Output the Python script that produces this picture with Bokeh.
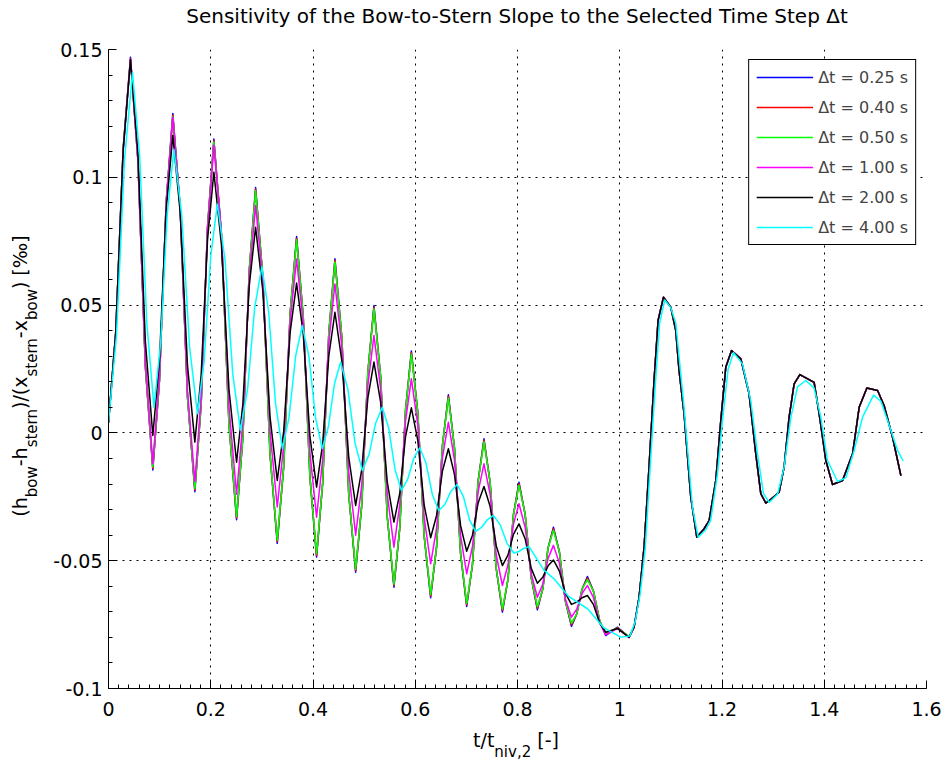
from bokeh.plotting import figure
from bokeh.models import Range1d, FixedTicker, Legend, LegendItem, CustomJSTickFormatter, Div
from bokeh.layouts import column, row
from bokeh.embed import file_html
from bokeh.resources import INLINE

# ---------------- data ----------------
x_phase1 = [0, 0.0143, 0.0287, 0.043, 0.0576, 0.0721, 0.0867, 0.0997, 0.1128, 0.1258,
            0.1402, 0.1545, 0.1689, 0.1813, 0.1937, 0.2061, 0.2209, 0.2357, 0.2505, 0.2629,
            0.2753, 0.2877, 0.3018, 0.316, 0.3301, 0.3427, 0.3553, 0.3679, 0.3809, 0.394,
            0.407, 0.419, 0.4309, 0.4429, 0.4564, 0.4699, 0.4834, 0.4953, 0.5073, 0.5192,
            0.5322, 0.5453, 0.5583, 0.5697, 0.581, 0.5924, 0.605, 0.6175, 0.6301, 0.6417,
            0.6532, 0.6648, 0.6767, 0.6887, 0.7006, 0.7119, 0.7231, 0.7344, 0.7464, 0.7585,
            0.7705, 0.7813, 0.7921, 0.8029, 0.8149, 0.8269, 0.8389, 0.8494, 0.8598, 0.8703,
            0.882, 0.8938, 0.9055, 0.9159, 0.9264, 0.9368, 0.9487, 0.9607, 0.9726, 0.9955,
            1.0182]
x_phase2 = [1.028, 1.0378, 1.0476, 1.0573, 1.0671, 1.075, 1.0855, 1.0998, 1.1096, 1.116,
            1.1258, 1.139, 1.1507, 1.165, 1.1748, 1.1879, 1.1977, 1.2074, 1.2186, 1.2368,
            1.253, 1.2661, 1.2759, 1.2857, 1.2955, 1.3118, 1.3215, 1.3313, 1.3411, 1.3523,
            1.3802, 1.39, 1.4031, 1.4162, 1.4358, 1.4554, 1.4683, 1.4834, 1.5043, 1.5172,
            1.5336, 1.5499]

y_blue_p1 = [0.004, 0.0398, 0.1113, 0.147, 0.1066, 0.0259, -0.0145, 0.0204, 0.0901, 0.125,
             0.088, 0.014, -0.023, 0.0115, 0.0805, 0.115, 0.0777, 0.0032, -0.034, -0.0015,
             0.0635, 0.096, 0.0612, -0.0084, -0.0432, -0.0132, 0.0468, 0.0768, 0.0454, -0.0173,
             -0.0486, -0.0194, 0.0389, 0.0681, 0.0374, -0.0239, -0.0545, -0.0284, 0.0237, 0.0498,
             0.0222, -0.0329, -0.0604, -0.0373, 0.0089, 0.032, 0.0079, -0.0404, -0.0645, -0.0446,
             -0.0049, 0.0149, -0.0058, -0.0472, -0.0679, -0.0515, -0.0187, -0.0023, -0.0193, -0.0532,
             -0.0701, -0.0574, -0.032, -0.0193, -0.0318, -0.0567, -0.0692, -0.0611, -0.045, -0.0369,
             -0.0466, -0.066, -0.0757, -0.0708, -0.0611, -0.0562, -0.062, -0.0735, -0.0793, -0.076,
             -0.080]
y_red_p1 = [0.004, 0.0398, 0.1113, 0.1464, 0.1066, 0.0259, -0.0139, 0.0204, 0.0901, 0.1244,
            0.088, 0.014, -0.0224, 0.0115, 0.0805, 0.1144, 0.0777, 0.0032, -0.0334, -0.0015,
            0.0635, 0.0954, 0.0612, -0.0084, -0.0426, -0.0132, 0.0468, 0.0762, 0.0454, -0.0173,
            -0.048, -0.0194, 0.0389, 0.0675, 0.0374, -0.0239, -0.0539, -0.0284, 0.0237, 0.0492,
            0.0222, -0.0329, -0.0598, -0.0373, 0.0089, 0.0314, 0.0079, -0.0404, -0.0639, -0.0446,
            -0.0049, 0.0143, -0.0058, -0.0472, -0.0673, -0.0515, -0.0187, -0.0029, -0.0193, -0.0532,
            -0.0695, -0.0574, -0.032, -0.0199, -0.0318, -0.0567, -0.0686, -0.0611, -0.045, -0.0375,
            -0.0466, -0.066, -0.0751, -0.0708, -0.0611, -0.0568, -0.062, -0.0735, -0.0788, -0.0762,
            -0.0798]
y_green_p1 = [0.004, 0.0398, 0.1113, 0.1458, 0.1066, 0.0259, -0.0133, 0.0204, 0.0901, 0.1238,
              0.088, 0.014, -0.0218, 0.0115, 0.0805, 0.1138, 0.0777, 0.0032, -0.0328, -0.0015,
              0.0635, 0.0948, 0.0612, -0.0084, -0.042, -0.0132, 0.0468, 0.0756, 0.0454, -0.0173,
              -0.0474, -0.0194, 0.0389, 0.0669, 0.0374, -0.0239, -0.0533, -0.0284, 0.0237, 0.0486,
              0.0222, -0.0329, -0.0592, -0.0373, 0.0089, 0.0308, 0.0079, -0.0404, -0.0633, -0.0446,
              -0.0049, 0.0137, -0.0058, -0.0472, -0.0667, -0.0515, -0.0187, -0.0035, -0.0193, -0.0532,
              -0.0689, -0.0574, -0.032, -0.0205, -0.0318, -0.0567, -0.068, -0.0611, -0.045, -0.0381,
              -0.0466, -0.066, -0.0745, -0.0708, -0.0611, -0.0574, -0.062, -0.0735, -0.0783, -0.0764,
              -0.0796]
y_magenta_p1 = [0.004, 0.0395, 0.1105, 0.146, 0.1065, 0.0275, -0.012, 0.0219, 0.0896, 0.1235,
                0.0879, 0.0166, -0.019, 0.0139, 0.0796, 0.1125, 0.0784, 0.0101, -0.024, 0.0043,
                0.0608, 0.089, 0.0595, 0.0005, -0.029, -0.0048, 0.0438, 0.068, 0.0428, -0.0078,
                -0.033, -0.0102, 0.0355, 0.0583, 0.0337, -0.0154, -0.040, -0.0205, 0.0186, 0.0381,
                0.0174, -0.024, -0.0447, -0.0282, 0.0047, 0.0212, 0.0031, -0.0331, -0.0512, -0.0374,
                -0.0097, 0.0042, -0.0106, -0.0403, -0.0551, -0.0444, -0.0229, -0.0121, -0.024, -0.0478,
                -0.0597, -0.0517, -0.0357, -0.0277, -0.0369, -0.0552, -0.0643, -0.0592, -0.0491, -0.044,
                -0.051, -0.0651, -0.0721, -0.069, -0.0628, -0.0597, -0.0645, -0.0742, -0.079, -0.0765,
                -0.080]
y_black_p1 = [0.004, 0.0395, 0.1105, 0.146, 0.1093, 0.0358, -0.001, 0.0284, 0.0871, 0.1164,
              0.0864, 0.0264, -0.0036, 0.0228, 0.0756, 0.102, 0.0736, 0.0169, -0.0115, 0.0115,
              0.0575, 0.0805, 0.0557, 0.0062, -0.0186, 0.0007, 0.0393, 0.0586, 0.0387, -0.0013,
              -0.0212, -0.0041, 0.0301, 0.0472, 0.0283, -0.0095, -0.0284, -0.0144, 0.0137, 0.0277,
              0.0121, -0.0193, -0.0349, -0.0237, -0.0014, 0.0098, -0.0029, -0.0283, -0.041, -0.0323,
              -0.0149, -0.0062, -0.0162, -0.0363, -0.0463, -0.04, -0.0273, -0.021, -0.0287, -0.0442,
              -0.0519, -0.0478, -0.0397, -0.0356, -0.0414, -0.053, -0.0588, -0.0565, -0.052, -0.0497,
              -0.0541, -0.0628, -0.0671, -0.0662, -0.0645, -0.0636, -0.0672, -0.0744, -0.078, -0.0765,
              -0.080]
tail_main = [-0.076, -0.0643, -0.0447, -0.0134, 0.0205, 0.044, 0.0531, 0.0492, 0.040, 0.0244,
             0.0076, -0.0252, -0.0408, -0.0375, -0.0343, -0.0186, 0.0049, 0.0257, 0.0322, 0.029,
             0.0153, -0.0082, -0.0238, -0.0275, -0.026, -0.0232, -0.0134, 0.0062, 0.0192, 0.0228,
             0.0198, 0.0075, -0.0108, -0.0202, -0.0186, -0.0082, 0.010, 0.0176, 0.0166, 0.0106,
             -0.0017, -0.0167]

x_cyan = [0, 0.0157, 0.0313, 0.047, 0.061, 0.075, 0.089, 0.102, 0.115, 0.128,
          0.1433, 0.1587, 0.174, 0.187, 0.2, 0.213, 0.228, 0.243, 0.258, 0.272,
          0.286, 0.3, 0.3133, 0.3267, 0.34, 0.353, 0.366, 0.379, 0.392, 0.405,
          0.418, 0.43, 0.442, 0.454, 0.4682, 0.4823, 0.4965, 0.5095, 0.5225, 0.5355,
          0.548, 0.5605, 0.573, 0.585, 0.597, 0.609, 0.6213, 0.6337, 0.646, 0.658,
          0.67, 0.682, 0.694, 0.706, 0.718, 0.7297, 0.7413, 0.753, 0.7663, 0.7797,
          0.793, 0.8028, 0.8127, 0.8225, 0.852, 0.8715, 0.9, 0.937, 0.969, 1.002,
          1.02, 1.03, 1.04, 1.05, 1.06, 1.07, 1.078, 1.088, 1.0998, 1.1096,
          1.1258, 1.1422, 1.1533, 1.168, 1.178, 1.1912, 1.201, 1.212, 1.2225, 1.24,
          1.2564, 1.2694, 1.2812, 1.2922, 1.3086, 1.3215, 1.3346, 1.3477, 1.364, 1.38,
          1.3933, 1.4064, 1.426, 1.4423, 1.4585, 1.475, 1.4964, 1.5108, 1.527, 1.5434,
          1.5544]
y_cyan = [0.004, 0.0383, 0.1068, 0.141, 0.1083, 0.0428, 0.010, 0.0353, 0.0858, 0.111,
          0.0851, 0.0334, 0.0075, 0.028, 0.0691, 0.0896, 0.0675, 0.0232, 0.001, 0.017,
          0.0491, 0.0651, 0.0473, 0.0116, -0.0062, 0.0059, 0.030, 0.042, 0.030, 0.0059,
          -0.0062, 0.0023, 0.0192, 0.0277, 0.0171, -0.0041, -0.0147, -0.0085, 0.0038, 0.010,
          0.0019, -0.0144, -0.0225, -0.0183, -0.010, -0.0058, -0.012, -0.0243, -0.0304, -0.0279,
          -0.0228, -0.0202, -0.0248, -0.0339, -0.0385, -0.037, -0.0339, -0.0323, -0.036, -0.0433,
          -0.047, -0.0464, -0.0451, -0.0445, -0.0538, -0.0571, -0.064, -0.0688, -0.0763, -0.0799,
          -0.0795, -0.074, -0.063, -0.045, -0.012, 0.02, 0.043, 0.052, 0.049, 0.043,
          0.010, -0.029, -0.0408, -0.038, -0.034, -0.016, 0.005, 0.025, 0.0314, 0.027,
          0.0125, -0.0082, -0.0238, -0.0272, -0.024, -0.0134, 0.006, 0.018, 0.0205, 0.0176,
          0.0062, -0.0108, -0.019, -0.0176, -0.0069, 0.0062, 0.0148, 0.0124, 0.003, -0.0068,
          -0.011]

labels = ["\u0394t = 0.25 s", "\u0394t = 0.40 s", "\u0394t = 0.50 s",
          "\u0394t = 1.00 s", "\u0394t = 2.00 s", "\u0394t = 4.00 s"]
colors = ["#0000ff", "#ff0000", "#00ff00", "#ff00ff", "#000000", "#00ffff"]

x_ticks = [0, 0.2, 0.4, 0.6, 0.8, 1.0, 1.2, 1.4, 1.6]
x_tick_labels = ["0", "0.2", "0.4", "0.6", "0.8", "1", "1.2", "1.4", "1.6"]
y_ticks = [-0.1, -0.05, 0, 0.05, 0.1, 0.15]
y_tick_labels = ["-0.1", "-0.05", "0", "0.05", "0.1", "0.15"]

title_text = "Sensitivity of the Bow-to-Stern Slope to the Selected Time Step \u0394t"

# ---------------- layout geometry ----------------
TOTAL_W, TOTAL_H = 945, 761
TITLE_H = 37          # div holding the title
YLAB_W = 48           # div holding the rotated y label
P_W = TOTAL_W - YLAB_W
BL, BR, BT, BB = 60, 19, 12, 41
FRAME_H = 639
P_H = BT + FRAME_H + BB
XLAB_H = TOTAL_H - TITLE_H - P_H
FONT = "DejaVu Sans"
FONT_CSS = "'DejaVu Sans', sans-serif"

p = figure(width=P_W, height=P_H, output_backend="svg", toolbar_location=None,
           x_range=Range1d(0, 1.6), y_range=Range1d(-0.1, 0.15),
           min_border_left=BL, min_border_right=BR, min_border_top=BT, min_border_bottom=BB)
p.outline_line_color = None
p.background_fill_color = "white"
p.border_fill_color = "white"

xt = FixedTicker(ticks=x_ticks, minor_ticks=[round(0.02 * i, 4) for i in range(81)])
yt = FixedTicker(ticks=y_ticks, minor_ticks=[round(-0.1 + 0.01 * i, 4) for i in range(26)])
p.xaxis.ticker = xt
p.yaxis.ticker = yt
p.xgrid.ticker = xt
p.ygrid.ticker = yt

fmt_code = """
let best = 0, d = Infinity;
for (let i = 0; i < tk.length; i++) {
  const e = Math.abs(tk[i] - tick);
  if (e < d) { d = e; best = i; }
}
return lb[best];
"""
p.xaxis.formatter = CustomJSTickFormatter(args=dict(tk=x_ticks, lb=x_tick_labels), code=fmt_code)
p.yaxis.formatter = CustomJSTickFormatter(args=dict(tk=y_ticks, lb=y_tick_labels), code=fmt_code)

for ax in (p.xaxis[0], p.yaxis[0]):
    ax.axis_line_color = "black"
    ax.axis_line_width = 1
    ax.major_tick_in = 8
    ax.major_tick_out = 0
    ax.minor_tick_in = 4
    ax.minor_tick_out = 0
    ax.major_tick_line_color = "black"
    ax.minor_tick_line_color = "black"
    ax.major_label_text_font = FONT
    ax.major_label_text_font_size = "19px"
    ax.major_label_text_color = "black"
p.xaxis.major_label_standoff = 13
p.yaxis.major_label_standoff = 6

for g in (p.xgrid[0], p.ygrid[0]):
    g.grid_line_color = "black"
    g.grid_line_dash = "2 5"
    g.grid_line_width = 1
    g.grid_line_alpha = 1.0

x_main = x_phase1 + x_phase2
ys = [y_blue_p1 + tail_main, y_red_p1 + tail_main, y_green_p1 + tail_main,
      y_magenta_p1 + tail_main, y_black_p1 + tail_main, y_cyan]
xs = [x_main, x_main, x_main, x_main, x_main, x_cyan]

items = []
for lab, col, xx, yy in zip(labels, colors, xs, ys):
    r = p.line(xx, yy, line_color=col, line_width=1.5, line_join="round")
    items.append(LegendItem(label=lab, renderers=[r]))

legend = Legend(items=items, location="top_right", border_line_color="black",
                border_line_width=1, border_line_alpha=1,
                label_text_font=FONT, label_text_font_size="16px",
                glyph_width=57, glyph_height=20, label_height=20, spacing=10,
                padding=7, margin=10, label_standoff=5,
                background_fill_color="white", background_fill_alpha=1)
p.add_layout(legend)

# ---------------- texts (HTML, real text with subscripts) ----------------
M, S = 19, 15


def sub(t, drop):
    return (f'<span style="font-size:{S}px;position:relative;top:{drop}px;">{t}</span>')


base_css = (f"position:absolute;white-space:nowrap;font-family:{FONT_CSS};"
            f"font-size:{M}px;line-height:{M}px;color:#000;")

title_div = Div(
    text=(f'<div style="position:relative;width:{TOTAL_W}px;height:{TITLE_H}px;">'
          f'<div style="{base_css}font-size:20px;line-height:20px;left:517px;top:6px;'
          f'transform:translateX(-50%);">{title_text}</div></div>'),
    width=TOTAL_W, height=TITLE_H, margin=(0, 0, 0, 0))

ylab_html = ("(h" + sub("bow", 10) + "-h" + sub("stern", 10) + ")/(x" + sub("stern", 10)
             + "-x" + sub("bow", 10) + ") [\u2030]")
ylab_div = Div(
    text=(f'<div style="position:relative;width:{YLAB_W}px;height:{P_H}px;">'
          f'<div style="{base_css}left:20.5px;top:{376 - TITLE_H}px;'
          f'transform:translate(-50%,-50%) rotate(-90deg);">{ylab_html}</div></div>'),
    width=YLAB_W, height=P_H, margin=(0, 0, 0, 0))

xlab_html = "t/t" + sub("niv,2", 10) + " [-]"
xlab_div = Div(
    text=(f'<div style="position:relative;width:{TOTAL_W}px;height:{XLAB_H}px;">'
          f'<div style="{base_css}left:516px;top:2px;transform:translateX(-50%);">'
          f'{xlab_html}</div></div>'),
    width=TOTAL_W, height=XLAB_H, margin=(0, 0, 0, 0))

layout = column(title_div, row(ylab_div, p, spacing=0), xlab_div, spacing=0)

open("out.html", "w").write(file_html(layout, INLINE))
